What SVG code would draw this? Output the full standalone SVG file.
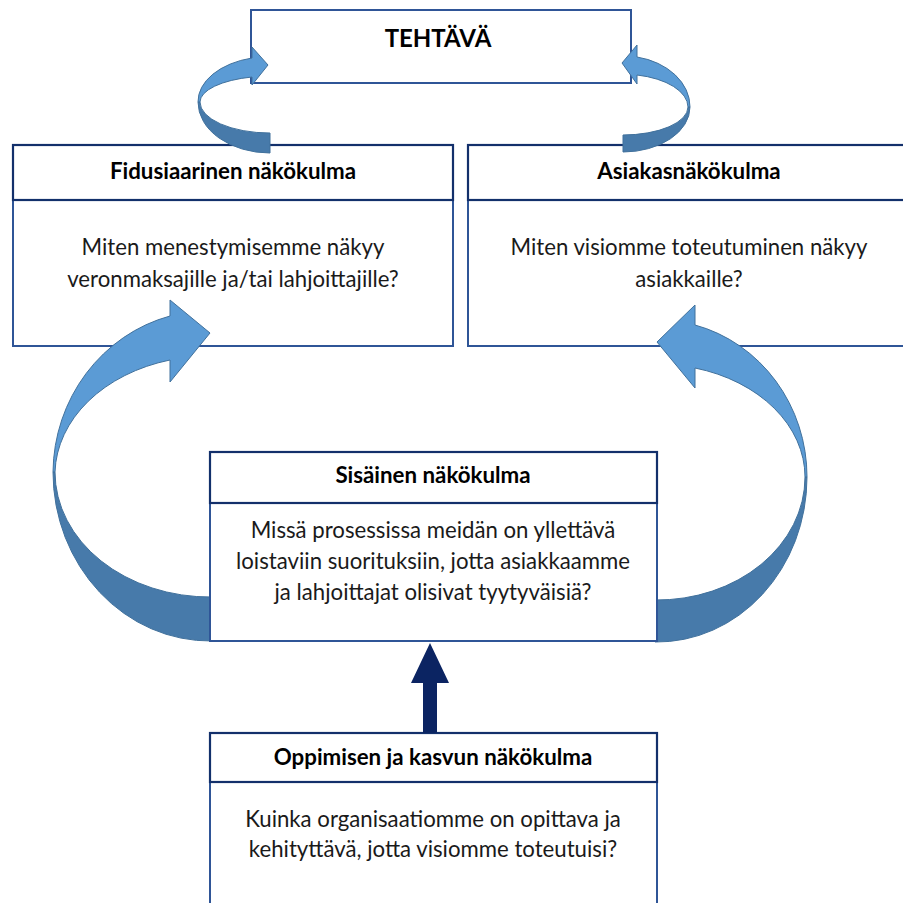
<svg xmlns="http://www.w3.org/2000/svg" width="903" height="903" viewBox="0 0 903 903">
<defs>
<style>
.body{fill:#ffffff;stroke:#2F5597;stroke-width:2}
.head{fill:#ffffff;stroke:#13306B;stroke-width:2.2}
.t{font-family:Lato,"Liberation Sans",sans-serif;font-size:22.2px;fill:#1a1a1a;text-anchor:middle}
.h{font-family:Lato,"Liberation Sans",sans-serif;font-size:22.3px;font-weight:bold;fill:#000;text-anchor:middle}
.light{fill:#5B9BD5;stroke:#41719C;stroke-width:1}
.dark{fill:#477AAA;stroke:#41719C;stroke-width:1}
.up{fill:#0B2462}
</style>
</defs>
<rect width="903" height="903" fill="#ffffff"/>

<g id="tehtava">
<rect class="body" x="251" y="10" width="380" height="73"/>
<text class="h" x="438" y="47" style="font-size:24px">TEHTÄVÄ</text>
</g>

<g id="fidusiaarinen">
<rect class="body" x="13" y="145" width="440" height="201"/>
<rect class="head" x="13" y="145" width="440" height="55"/>
<text class="h" x="233" y="179">Fidusiaarinen näkökulma</text>
<text class="t" x="233" y="255">Miten menestymisemme näkyy</text>
<text class="t" x="233" y="287">veronmaksajille ja/tai lahjoittajille?</text>
</g>

<g id="asiakas">
<rect class="body" x="468" y="145" width="442" height="201"/>
<rect class="head" x="468" y="145" width="442" height="55"/>
<text class="h" x="689" y="179">Asiakasnäkökulma</text>
<text class="t" x="689" y="255">Miten visiomme toteutuminen näkyy</text>
<text class="t" x="689" y="287">asiakkaille?</text>
</g>

<g id="connectors">
<path class="dark" d="M 198 102 A 72 51 0 0 0 270 153 L 270 133 A 70 31 0 0 1 200 102 Z"/>
<path class="light" d="M 198 102 A 72 45 0 0 1 252 58 L 252 47 L 268 65 L 252 85 L 252 77 A 70 26 0 0 0 200 102 Z"/>
<path class="dark" d="M 690 107 A 67 45 0 0 1 623 152 L 623 135 A 65 28 0 0 0 688 107 Z"/>
<path class="light" d="M 690 107 A 67 51 0 0 0 637 57 L 637 45 L 622 63 L 637 84 L 637 75 A 65 33 0 0 1 688 107 Z"/>
<path class="dark" d="M 53 472 A 157 169 0 0 0 212 641 L 212 597 A 155 125 0 0 1 55 472 Z"/>
<path class="light" d="M 53 472 A 157 163 0 0 1 170 316 L 170 300 L 210 333 L 170 382 L 170 360 A 155 119 0 0 0 55 472 Z"/>
<path class="dark" d="M 807 477 A 150 165 0 0 1 655 642 L 655 600 A 148 123 0 0 0 805 477 Z"/>
<path class="light" d="M 807 477 A 150 157 0 0 0 695 325 L 695 305 L 657 342 L 695 388 L 695 368 A 148 113 0 0 1 805 477 Z"/>
</g>

<g id="sisainen">
<rect class="body" x="210" y="452" width="447" height="189"/>
<rect class="head" x="210" y="452" width="447" height="51"/>
<text class="h" x="433" y="483">Sisäinen näkökulma</text>
<text class="t" x="433" y="538">Missä prosessissa meidän on yllettävä</text>
<text class="t" x="433" y="569">loistaviin suorituksiin, jotta asiakkaamme</text>
<text class="t" x="433" y="600">ja lahjoittajat olisivat tyytyväisiä?</text>
</g>

<g id="oppimisen">
<rect class="body" x="210" y="733" width="447" height="190"/>
<rect class="head" x="210" y="733" width="447" height="49"/>
<text class="h" x="433" y="765">Oppimisen ja kasvun näkökulma</text>
<text class="t" x="433" y="827">Kuinka organisaatiomme on opittava ja</text>
<text class="t" x="433" y="857">kehityttävä, jotta visiomme toteutuisi?</text>
</g>

<g id="up-arrow">
<path class="up" d="M 423 733 L 423 683 L 411 683 L 430 643 L 449 683 L 437 683 L 437 733 Z"/>
</g>
</svg>
